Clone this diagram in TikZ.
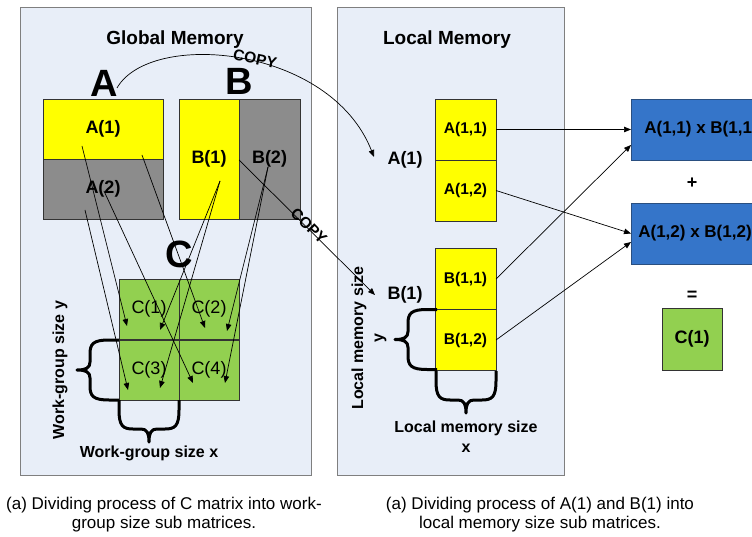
\documentclass[tikz,border=0pt]{standalone}
\usepackage{fontspec}
\setmainfont{Liberation Sans}
\usetikzlibrary{arrows.meta}

\definecolor{panelfill}{HTML}{E8EEF8}
\definecolor{panelline}{HTML}{7F7F7F}
\definecolor{cellyellow}{HTML}{FFFF00}
\definecolor{cellgray}{HTML}{8C8C8C}
\definecolor{cellgreen}{HTML}{92D050}
\definecolor{prodblue}{HTML}{3575C9}
\definecolor{prodedge}{HTML}{2A4F80}

\newcommand\fsz[2]{\fontsize{#1}{#2}\selectfont}

\tikzset{
  panel/.style={draw=panelline, fill=panelfill, line width=1pt, inner sep=0pt, outer sep=0pt},
  cell/.style 2 args={draw=black!80, line width=0.8pt, inner sep=0pt, outer sep=0pt,
    minimum width=#1, minimum height=#2},
  title/.style={font=\bfseries\fsz{19}{22}},
  bigletter/.style={font=\bfseries\fsz{38}{40}, inner sep=0pt},
  matlbl/.style={font=\bfseries\fsz{18}{20}},
  clbl/.style={font=\fsz{18}{20}},
  sublbl/.style={font=\bfseries\fsz{15.5}{18}},
  prodlbl/.style={font=\bfseries\fsz{17}{19}},
  sidelbl/.style={font=\bfseries\fsz{16}{20}, align=center},
  copytxt/.style={font=\bfseries\fsz{15.5}{17}, inner sep=0pt},
  captxt/.style={font=\fsz{17}{19}, align=center},
  conn/.style={-{Triangle[length=7pt,width=5.5pt]}, line width=0.7pt},
  bracestyle/.style={line width=3pt, line join=round},
  wbrace/.pic={
    \draw[bracestyle] (0,0) -- (-10,0) .. controls (-26,0) and (-29,4) .. (-29,14)
      -- (-29,22) .. controls (-29,28) and (-33,30) .. (-42,30)
      .. controls (-33,30) and (-29,32) .. (-29,38)
      -- (-29,46) .. controls (-29,56) and (-26,60) .. (-10,60) -- (0,60);
  }
}

\begin{document}
\begin{tikzpicture}[x=1pt, y=-1pt]
\useasboundingbox (0,0) rectangle (752,537);
\clip (0,0) rectangle (752,537);

% memory panels
\node[panel, minimum width=291pt, minimum height=467pt] (gm) at (165.5,241.5) {};
\node[panel, minimum width=227pt, minimum height=467pt] (lm) at (450.5,241.5) {};
\node[title] (gmt) at (175,40) {Global Memory};
\node[title] (lmt) at (447,40) {Local Memory};

% global matrices
\node[bigletter] (Aname) at (104,83) {A};
\node[bigletter] (Bname) at (239,81) {B};
\node[bigletter] (Cname) at (179,254) {C};

\node[cell={120pt}{60pt}, fill=cellyellow, matlbl] (A1) at (103,129) {A(1)};
\node[cell={120pt}{60pt}, fill=cellgray, matlbl] (A2) at (103,189) {A(2)};
\node[cell={60pt}{120pt}, fill=cellyellow, matlbl] (B1) at (209,159) {B(1)};
\node[cell={61pt}{120pt}, fill=cellgray, matlbl] (B2) at (269.5,159) {B(2)};

\node[cell={60pt}{60pt}, fill=cellgreen, clbl] (C1) at (149,309) {C(1)};
\node[cell={60pt}{60pt}, fill=cellgreen, clbl] (C2) at (209,309) {C(2)};
\node[cell={60pt}{60pt}, fill=cellgreen, clbl] (C3) at (149,370) {C(3)};
\node[cell={60pt}{60pt}, fill=cellgreen, clbl] (C4) at (209,370) {C(4)};

% rows of A and columns of B feeding the blocks of C
\coordinate (a1s1) at (82,146);
\coordinate (a1s2) at (142,155);
\coordinate (a2s1) at (85,210);
\coordinate (a2s2) at (104,191);
\coordinate (b1s) at (220,181);
\coordinate (b2s) at (268,167);
\coordinate (c1e1) at (127,326);
\coordinate (c1e2) at (160,330);
\coordinate (c2e1) at (205,328);
\coordinate (c2e2) at (227,331);
\coordinate (c3e1) at (128,390);
\coordinate (c3e2) at (160,388);
\coordinate (c4e1) at (193,383);
\coordinate (c4e2) at (225,383);

\draw[conn] (a1s1) -- (c1e1);
\draw[conn] (a1s2) -- (c2e1);
\draw[conn] (a2s1) -- (c3e1);
\draw[conn] (a2s2) -- (c4e1);
\draw[conn] (b1s) -- (c1e2);
\draw[conn] (b1s) -- (c3e2);
\draw[conn] (b2s) -- (c2e2);
\draw[conn] (b2s) -- (c4e2);

% work-group braces
\pic at (119,340) {wbrace};
\pic[rotate=90] at (119,400) {wbrace};
\node[sidelbl, rotate=90] (wgy) at (60,370) {Work-group size y};
\node[sidelbl] (wgx) at (149,453) {Work-group size x};

% local memory blocks
\node[matlbl] (A1lbl) at (405,160) {A(1)};
\node[matlbl] (B1lbl) at (405,295) {B(1)};
\node[cell={61pt}{61pt}, fill=cellyellow, sublbl] (A11) at (465.5,129.5) {A(1,1)};
\node[cell={61pt}{61pt}, fill=cellyellow, sublbl] (A12) at (465.5,190.5) {A(1,2)};
\node[cell={61pt}{61pt}, fill=cellyellow, sublbl] (B11) at (465.5,279) {B(1,1)};
\node[cell={61pt}{61pt}, fill=cellyellow, sublbl] (B12) at (465.5,340) {B(1,2)};

\pic at (437,309.5) {wbrace};
\pic[rotate=90] at (436,371) {wbrace};
\node[sidelbl, rotate=90] (lmy) at (369,338) {Local memory size\\y};
\node[sidelbl] (lmx) at (466,437) {Local memory size\\x};

% copies from global to local memory
\coordinate (cpAs) at (117,88);
\coordinate (cpAe) at (374,157);
\coordinate (cpBs) at (239,160);
\coordinate (cpBe) at (375,295);
\draw[conn] (cpAs) .. controls (150,30) and (330,45) .. (cpAe);
\node[copytxt, rotate=-12] (cpAt) at (255,59) {COPY};
\draw[conn] (cpBs) -- (cpBe);
\node[copytxt, rotate=-45] (cpBt) at (309,226) {COPY};

% partial products
\node[cell={140pt}{61pt}, draw=prodedge, fill=prodblue, prodlbl] (P1) at (701,129.5) {A(1,1) x B(1,1)};
\node[cell={128pt}{61pt}, draw=prodedge, fill=prodblue, prodlbl] (P2) at (695,233.5) {A(1,2) x B(1,2)};
\node[matlbl] (plus) at (692,183) {+};
\node[matlbl] (eq) at (692,296) {=};
\node[cell={60pt}{62pt}, fill=cellgreen, matlbl] (Cres) at (692,339) {C(1)};

\draw[conn] (A11.east) -- (P1.west);
\draw[conn] (A12.east) -- (P2.west);
\draw[conn] (B11.east) -- ([yshift=-15.5pt]P1.west);
\draw[conn] (B12.east) -- ([yshift=-8.5pt]P2.west);

% captions
\node[captxt] (cap1) at (164,515) {(a) Dividing process of C matrix into work-\\group size sub matrices.};
\node[captxt] (cap2) at (540,515) {(a) Dividing process of A(1) and B(1) into\\local memory size sub matrices.};
\end{tikzpicture}
\end{document}
